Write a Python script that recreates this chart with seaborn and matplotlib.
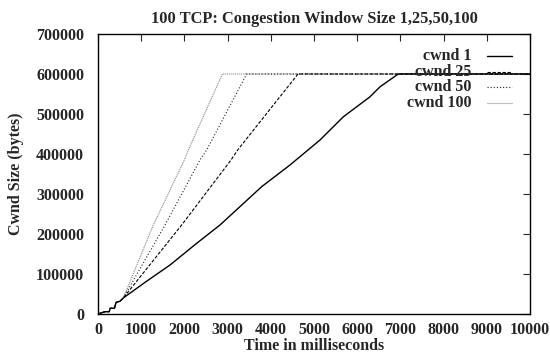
import matplotlib
matplotlib.use("Agg")
import matplotlib.pyplot as plt
import seaborn as sns
import pandas as pd

# ---- data ----
start_t = [0, 160, 260, 280, 380, 420, 510, 585]
start_v = [0, 5800, 5800, 14300, 14300, 29000, 32000, 40000]

cwnd1_t = [1100, 1667, 2284, 2824, 3789, 4444, 5139, 5679, 6296, 6528, 6950, 10000]
cwnd1_v = [80000, 122500, 176700, 222500, 318300, 372500, 435000, 493000, 543000, 568000, 600000, 600000]

cwnd25_t = [1937, 3079, 3233, 4630, 10000]
cwnd25_v = [222500, 385000, 410000, 600000, 600000]

cwnd50_t = [1551, 2361, 2515, 3441, 10000]
cwnd50_v = [222500, 385000, 410000, 600000, 600000]

cwnd100_t = [1281, 1998, 2091, 2880, 10000]
cwnd100_v = [222500, 385000, 410000, 600000, 600000]

labels = ["cwnd 1", "cwnd 25", "cwnd 50", "cwnd 100"]
x_ticks = [0, 1000, 2000, 3000, 4000, 5000, 6000, 7000, 8000, 9000, 10000]
y_ticks = [0, 100000, 200000, 300000, 400000, 500000, 600000, 700000]

series = {
    "cwnd 1": (start_t + cwnd1_t, start_v + cwnd1_v),
    "cwnd 25": (start_t + cwnd25_t, start_v + cwnd25_v),
    "cwnd 50": (start_t + cwnd50_t, start_v + cwnd50_v),
    "cwnd 100": (start_t + cwnd100_t, start_v + cwnd100_v),
}

styles = {
    "cwnd 1": dict(color="black", lw=1.0, ls="-"),
    "cwnd 25": dict(color="black", lw=0.8, ls=(0, (3, 1.5))),
    "cwnd 50": dict(color="#222222", lw=0.8, ls=(0, (1, 1.8))),
    "cwnd 100": dict(color="#8a8a8a", lw=0.8, ls=(0, (1, 0.8))),
}

FS = 11.5

sns.set_style("white")
plt.rcParams["font.family"] = ["Liberation Serif", "DejaVu Serif"]
plt.rcParams["font.weight"] = "bold"

fig = plt.figure(figsize=(5.5, 3.56), dpi=100)
ax = fig.add_axes([98 / 550, 1 - 314 / 356, 432 / 550, 280 / 356])

# draw in reverse so cwnd 1 on top
for name in labels[::-1]:
    t, v = series[name]
    df = pd.DataFrame({"t": t, "v": v})
    st = styles[name]
    sns.lineplot(data=df, x="t", y="v", ax=ax, sort=False, estimator=None,
                 color=st["color"], linewidth=st["lw"], linestyle=st["ls"])

ax.set_xlim(0, 10000)
ax.set_ylim(0, 700000)
ax.set_xticks(x_ticks)
ax.set_yticks(y_ticks)
ax.set_xticklabels([str(x) for x in x_ticks], fontsize=FS, fontweight="bold")
ax.set_yticklabels([str(y) for y in y_ticks], fontsize=FS, fontweight="bold")
ax.tick_params(direction="in", top=True, right=True, length=5, width=0.8)
ax.tick_params(axis="x", pad=6)
ax.tick_params(axis="y", pad=10)
for s in ax.spines.values():
    s.set_visible(True)
    s.set_linewidth(1.0)
    s.set_color("black")

ax.set_xlabel("Time in milliseconds", fontsize=FS, fontweight="bold")
ax.set_ylabel("Cwnd Size (bytes)", fontsize=FS, fontweight="bold")
ax.xaxis.set_label_coords(0.5, -0.085)
ax.yaxis.set_label_coords(-0.172, 0.5)
ax.set_title("100 TCP: Congestion Window Size 1,25,50,100", fontsize=FS + 0.3,
             fontweight="bold", pad=8)

# key, gnuplot style (text right aligned, sample to the right)
key_y = [0.921, 0.865, 0.811, 0.755]
for name, yk in zip(labels, key_y):
    st = styles[name]
    ax.text(0.865, yk, name, transform=ax.transAxes, ha="right", va="center",
            fontsize=FS, fontweight="bold")
    ax.plot([0.900, 0.958], [yk, yk], transform=ax.transAxes,
            color=st["color"], lw=st["lw"], ls=st["ls"])

fig.savefig("out.png", dpi=100)
